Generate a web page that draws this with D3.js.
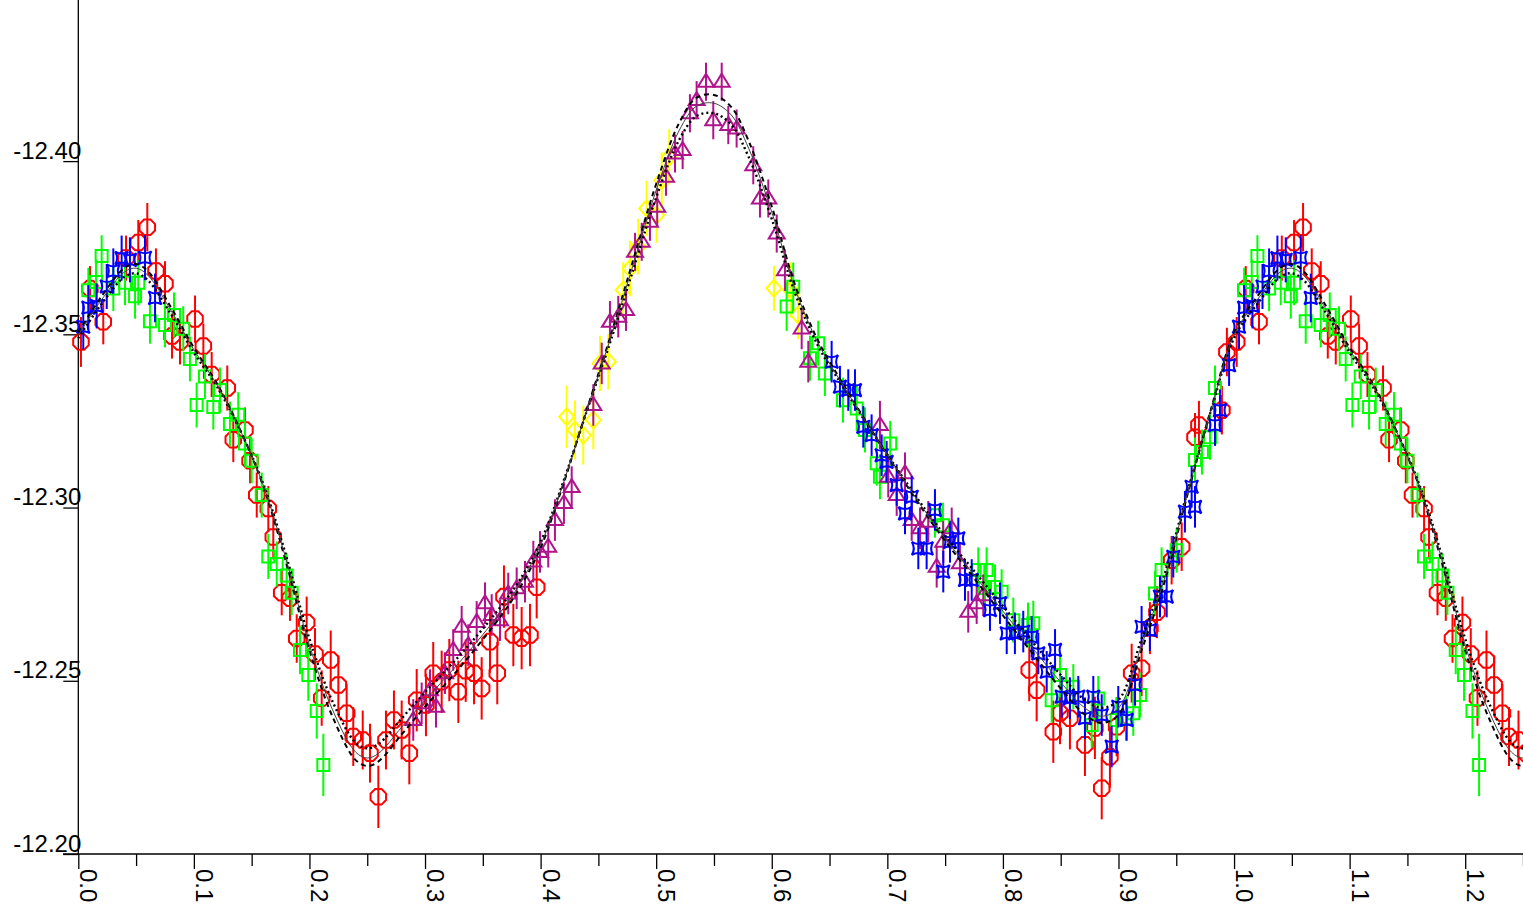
<!DOCTYPE html>
<html><head><meta charset="utf-8">
<script src="https://cdn.jsdelivr.net/npm/d3@7"></script>
<style>
body{margin:0;background:#fff;}
svg{display:block;}
text{font-family:"Liberation Sans",Arial,sans-serif;}
</style>
</head><body>
<svg id="chart" width="1523" height="908"></svg>
<script>
// ---------- tick definitions ----------
const yTicks = [-12.40, -12.35, -12.30, -12.25, -12.20];
const xMajorTicks = [0,0.1,0.2,0.3,0.4,0.5,0.6,0.7,0.8,0.9,1.0,1.1,1.2];
const xMajorLabels = ["0.0","0.1","0.2","0.3","0.4","0.5","0.6","0.7","0.8","0.9","1.0","1.1","1.2"];
const xMinorTicks = [0.05,0.15,0.25,0.35,0.45,0.55,0.65,0.75,0.85,0.95,1.05,1.15,1.25];

// ---------- observations: [phase, magnitude, error] ----------
const redPoints = [
[0.0023,-12.3478,0.0072],[0.0101,-12.3632,0.0065],[0.0216,-12.3536,0.0065],[0.0413,-12.3720,0.0065],
[0.0519,-12.3765,0.0065],[0.0597,-12.3809,0.0070],[0.0672,-12.3683,0.0065],[0.0750,-12.3646,0.0065],
[0.0811,-12.3495,0.0065],[0.0880,-12.3478,0.0065],[0.1010,-12.3544,0.0068],[0.1082,-12.3466,0.0065],
[0.1154,-12.3384,0.0065],[0.1289,-12.3345,0.0065],[0.1341,-12.3196,0.0065],[0.1442,-12.3224,0.0065],
[0.1486,-12.3135,0.0065],[0.1544,-12.3036,0.0065],[0.1644,-12.2997,0.0065],[0.1687,-12.2915,0.0065],
[0.1760,-12.2754,0.0065],[0.1832,-12.2738,0.0065],[0.1890,-12.2622,0.0070],[0.1976,-12.2668,0.0075],
[0.2048,-12.2577,0.0075],[0.2106,-12.2450,0.0080],[0.2184,-12.2560,0.0085],[0.2250,-12.2488,0.0085],
[0.2322,-12.2406,0.0085],[0.2379,-12.2339,0.0085],[0.2461,-12.2329,0.0085],[0.2524,-12.2291,0.0085],
[0.2596,-12.2165,0.0090],[0.2662,-12.2329,0.0085],[0.2731,-12.2387,0.0085],[0.2798,-12.2358,0.0085],
[0.2864,-12.2291,0.0090],[0.2928,-12.2444,0.0090],[0.3008,-12.2430,0.0090],[0.3071,-12.2522,0.0090],
[0.3144,-12.2497,0.0090],[0.3210,-12.2531,0.0090],[0.3288,-12.2468,0.0090],[0.3352,-12.2529,0.0090],
[0.3424,-12.2522,0.0090],[0.3490,-12.2478,0.0090],[0.3562,-12.2613,0.0090],[0.3625,-12.2522,0.0090],
[0.3683,-12.2743,0.0090],[0.3764,-12.2632,0.0090],[0.3836,-12.2623,0.0090],[0.3908,-12.2632,0.0090],
[0.3966,-12.2770,0.0090],
[0.8228,-12.2531,0.0090],[0.8292,-12.2473,0.0090],[0.8436,-12.2353,0.0090],[0.8494,-12.2407,0.0090],
[0.8580,-12.2392,0.0090],[0.8710,-12.2315,0.0090],[0.8796,-12.2364,0.0090],[0.8855,-12.2190,0.0090],
[0.8926,-12.2281,0.0090],[0.8984,-12.2367,0.0085],[0.9114,-12.2522,0.0085],[0.9200,-12.2536,0.0080],
[0.9272,-12.2652,0.0075],[0.9333,-12.2698,0.0075],[0.9460,-12.2848,0.0070],[0.9547,-12.2887,0.0070],
[0.9662,-12.3203,0.0070],[0.9696,-12.3238,0.0070],[0.9895,-12.3281,0.0070],[0.9938,-12.3449,0.0070]
];
const greenPoints = [
[0.0087,-12.3627,0.0065],[0.0153,-12.3651,0.0065],[0.0202,-12.3726,0.0060],[0.0303,-12.3632,0.0065],
[0.0404,-12.3649,0.0065],[0.0491,-12.3610,0.0065],[0.0519,-12.3649,0.0065],[0.0620,-12.3538,0.0065],
[0.0750,-12.3527,0.0065],[0.0828,-12.3556,0.0065],[0.0908,-12.3516,0.0065],[0.0966,-12.3429,0.0065],
[0.1024,-12.3296,0.0065],[0.1096,-12.3378,0.0065],[0.1168,-12.3290,0.0065],[0.1226,-12.3339,0.0065],
[0.1312,-12.3241,0.0065],[0.1384,-12.3268,0.0065],[0.1442,-12.3185,0.0065],[0.1500,-12.3135,0.0065],
[0.1587,-12.3036,0.0065],[0.1644,-12.2859,0.0065],[0.1717,-12.2837,0.0065],[0.1803,-12.2804,0.0065],
[0.1846,-12.2754,0.0065],[0.1918,-12.2589,0.0070],[0.1990,-12.2517,0.0075],[0.2063,-12.2413,0.0080],
[0.2120,-12.2257,0.0090],
[0.6129,-12.3580,0.0070],[0.6186,-12.3637,0.0070],[0.6331,-12.3431,0.0065],[0.6402,-12.3474,0.0065],
[0.6460,-12.3387,0.0065],[0.6616,-12.3310,0.0065],[0.6735,-12.3286,0.0065],[0.6807,-12.3224,0.0065],
[0.6908,-12.3128,0.0065],[0.6936,-12.3089,0.0065],[0.7025,-12.3185,0.0065],[0.7412,-12.2978,0.0065],
[0.7481,-12.2949,0.0065],[0.7787,-12.2820,0.0065],[0.7845,-12.2768,0.0065],[0.7859,-12.2820,0.0065],
[0.7931,-12.2771,0.0065],[0.7989,-12.2757,0.0065],[0.8090,-12.2675,0.0065],[0.8217,-12.2661,0.0065],
[0.8263,-12.2666,0.0065],[0.8422,-12.2444,0.0065],[0.8494,-12.2517,0.0065],[0.8609,-12.2483,0.0065],
[0.8768,-12.2372,0.0065],[0.8825,-12.2449,0.0065],[0.8984,-12.2387,0.0065],[0.9065,-12.2392,0.0065],
[0.9128,-12.2406,0.0065],[0.9186,-12.2459,0.0065],[0.9316,-12.2752,0.0065],[0.9373,-12.2820,0.0065],
[0.9503,-12.2877,0.0065],[0.9662,-12.3137,0.0065],[0.9722,-12.3160,0.0065],[0.9792,-12.3203,0.0065],
[0.9835,-12.3345,0.0065]
];
const bluePoints = [
[0.0043,-12.3522,0.0065],[0.0087,-12.3577,0.0065],[0.0159,-12.3582,0.0065],[0.0246,-12.3638,0.0065],
[0.0303,-12.3683,0.0065],[0.0375,-12.3720,0.0065],[0.0447,-12.3715,0.0065],[0.0577,-12.3721,0.0065],
[0.0664,-12.3605,0.0070],
[0.6518,-12.3421,0.0060],[0.6590,-12.3349,0.0060],[0.6662,-12.3339,0.0060],[0.6720,-12.3339,0.0060],
[0.6792,-12.3233,0.0060],[0.6864,-12.3209,0.0060],[0.6951,-12.3151,0.0060],[0.6994,-12.3132,0.0060],
[0.7081,-12.3065,0.0060],[0.7153,-12.2983,0.0060],[0.7211,-12.3031,0.0060],[0.7268,-12.2882,0.0060],
[0.7340,-12.2882,0.0060],[0.7412,-12.2993,0.0060],[0.7484,-12.2815,0.0060],[0.7542,-12.2901,0.0060],
[0.7614,-12.2911,0.0060],[0.7672,-12.2791,0.0060],[0.7730,-12.2791,0.0060],[0.7888,-12.2704,0.0060],
[0.7975,-12.2724,0.0060],[0.8033,-12.2637,0.0060],[0.8104,-12.2637,0.0060],[0.8176,-12.2642,0.0060],
[0.8249,-12.2627,0.0060],[0.8306,-12.2579,0.0060],[0.8379,-12.2526,0.0060],[0.8451,-12.2589,0.0060],
[0.8509,-12.2454,0.0060],[0.8580,-12.2450,0.0060],[0.8652,-12.2454,0.0060],[0.8710,-12.2392,0.0060],
[0.8782,-12.2454,0.0060],[0.8855,-12.2401,0.0060],[0.8941,-12.2310,0.0060],[0.8998,-12.2425,0.0060],
[0.9071,-12.2387,0.0060],[0.9143,-12.2488,0.0060],[0.9200,-12.2656,0.0060],[0.9272,-12.2646,0.0060],
[0.9359,-12.2743,0.0060],[0.9417,-12.2743,0.0060],[0.9474,-12.2858,0.0060],[0.9575,-12.2988,0.0060],
[0.9633,-12.3060,0.0060],[0.9662,-12.3002,0.0060],[0.9835,-12.3238,0.0060],[0.9878,-12.3281,0.0060],
[0.9957,-12.3411,0.0060]
];
const magentaPoints = [
[0.2898,-12.2387,0.0060],[0.2971,-12.2435,0.0060],[0.3043,-12.2473,0.0060],[0.3095,-12.2425,0.0060],
[0.3173,-12.2522,0.0060],[0.3244,-12.2589,0.0060],[0.3317,-12.2656,0.0060],[0.3374,-12.2603,0.0060],
[0.3447,-12.2670,0.0060],[0.3519,-12.2724,0.0060],[0.3577,-12.2690,0.0060],[0.3649,-12.2675,0.0060],
[0.3720,-12.2752,0.0060],[0.3793,-12.2767,0.0060],[0.3865,-12.2786,0.0060],[0.3937,-12.2844,0.0060],
[0.3995,-12.2872,0.0060],[0.4066,-12.2887,0.0060],[0.4124,-12.2964,0.0060],[0.4202,-12.3013,0.0060],
[0.4269,-12.3059,0.0060],[0.4456,-12.3296,0.0060],[0.4529,-12.3416,0.0060],[0.4600,-12.3536,0.0060],
[0.4672,-12.3551,0.0060],[0.4739,-12.3570,0.0060],[0.4817,-12.3738,0.0055],[0.4875,-12.3767,0.0055],
[0.4946,-12.3825,0.0055],[0.5009,-12.3868,0.0055],[0.5085,-12.3955,0.0055],[0.5163,-12.4022,0.0055],
[0.5229,-12.4032,0.0055],[0.5292,-12.4138,0.0055],[0.5350,-12.4176,0.0055],[0.5431,-12.4229,0.0055],
[0.5494,-12.4118,0.0055],[0.5567,-12.4229,0.0055],[0.5624,-12.4104,0.0055],[0.5696,-12.4094,0.0055],
[0.5840,-12.3988,0.0055],[0.5898,-12.3892,0.0055],[0.5970,-12.3892,0.0055],[0.6043,-12.3791,0.0055],
[0.6114,-12.3685,0.0060],[0.6259,-12.3517,0.0060],[0.6316,-12.3421,0.0060],[0.6936,-12.3238,0.0070],
[0.7008,-12.3089,0.0060],[0.7081,-12.3036,0.0060],[0.7153,-12.3099,0.0060],[0.7211,-12.2964,0.0060],
[0.7283,-12.2940,0.0060],[0.7354,-12.2959,0.0060],[0.7427,-12.2829,0.0060],[0.7484,-12.2901,0.0060],
[0.7557,-12.2940,0.0060],[0.7628,-12.2839,0.0060],[0.7700,-12.2699,0.0060],[0.7773,-12.2724,0.0060],
[0.7830,-12.2747,0.0060]
];
const yellowPoints = [
[0.4226,-12.3262,0.0090],[0.4297,-12.3224,0.0085],[0.4369,-12.3209,0.0085],[0.4456,-12.3253,0.0085],
[0.4514,-12.3416,0.0080],[0.4586,-12.3421,0.0080],[0.4715,-12.3628,0.0080],[0.4773,-12.3690,0.0080],
[0.4845,-12.3753,0.0080],[0.4918,-12.3863,0.0080],[0.5004,-12.3844,0.0080],[0.5048,-12.3945,0.0080],
[0.5113,-12.4012,0.0080],[0.6019,-12.3633,0.0065],[0.6164,-12.3628,0.0080],[0.6229,-12.3556,0.0070]
];

// ---------- model light curves (one cycle) ----------
const modelPhase = [0.00,0.02,0.04,0.05,0.06,0.08,0.10,0.12,0.14,0.16,0.18,0.20,0.22,0.24,0.25,0.26,0.28,0.30,0.33,0.36,0.38,0.40,0.42,0.44,0.46,0.48,0.50,0.52,0.535,0.55,0.565,0.58,0.60,0.62,0.64,0.66,0.70,0.74,0.78,0.82,0.85,0.87,0.885,0.90,0.92,0.94,0.96,0.98];
const modelMid = [-12.3498,-12.3599,-12.3680,-12.3691,-12.3671,-12.3570,-12.3455,-12.3354,-12.3224,-12.3065,-12.2848,-12.2603,-12.2416,-12.2294,-12.2277,-12.2291,-12.2367,-12.2444,-12.2554,-12.2675,-12.2768,-12.2892,-12.3074,-12.3281,-12.3483,-12.3700,-12.3916,-12.4089,-12.4159,-12.4167,-12.4133,-12.4037,-12.3853,-12.3633,-12.3475,-12.3362,-12.3152,-12.2955,-12.2785,-12.2618,-12.2496,-12.2424,-12.2398,-12.2421,-12.2603,-12.2797,-12.3045,-12.3281];
const modelHigh = [-12.3505,-12.3609,-12.3692,-12.3703,-12.3683,-12.3579,-12.3461,-12.3358,-12.3225,-12.3062,-12.2839,-12.2588,-12.2396,-12.2271,-12.2254,-12.2268,-12.2346,-12.2425,-12.2538,-12.2662,-12.2757,-12.2884,-12.3071,-12.3283,-12.3490,-12.3713,-12.3934,-12.4111,-12.4183,-12.4191,-12.4156,-12.4058,-12.3869,-12.3644,-12.3482,-12.3366,-12.3151,-12.2949,-12.2775,-12.2603,-12.2478,-12.2405,-12.2378,-12.2402,-12.2588,-12.2787,-12.3041,-12.3283];
const modelLow = [-12.3489,-12.3587,-12.3666,-12.3676,-12.3657,-12.3559,-12.3447,-12.3349,-12.3223,-12.3069,-12.2859,-12.2621,-12.2440,-12.2321,-12.2305,-12.2318,-12.2392,-12.2467,-12.2573,-12.2691,-12.2781,-12.2901,-12.3078,-12.3279,-12.3475,-12.3685,-12.3895,-12.4062,-12.4130,-12.4138,-12.4105,-12.4012,-12.3833,-12.3620,-12.3467,-12.3357,-12.3153,-12.2962,-12.2797,-12.2635,-12.2517,-12.2447,-12.2422,-12.2444,-12.2621,-12.2809,-12.3050,-12.3279];

// ---------- layout ----------
const W = 1523, H = 908;
const svg = d3.select("#chart");
const x = d3.scaleLinear().domain([0, 1.25]).range([78.3, 1523]);
const y = d3.scaleLinear().domain([-12.20, -12.4465]).range([854, 0]);

// phase-folded repetition of the first quarter cycle beyond phase 1
const fold = arr => arr.concat(arr.filter(d => d[0] <= 0.26).map(d => [d[0] + 1, d[1], d[2]]));

svg.append("defs").append("clipPath").attr("id","plotclip")
  .append("rect").attr("x", 0).attr("y", 0).attr("width", W).attr("height", 854);

// ---------- axes ----------
const yAxis = d3.axisLeft(y).tickValues(yTicks).tickSize(15).tickSizeOuter(0)
  .tickFormat(d => d.toFixed(2));
const gy = svg.append("g").attr("transform", "translate(78.3,0)").call(yAxis);
gy.select(".domain").remove();
gy.selectAll(".tick line").attr("stroke", "#000").attr("stroke-width", 1.3);
gy.selectAll(".tick text").attr("x", 3).attr("y", -3).attr("dy", 0)
  .attr("font-size", 24).attr("fill", "#000").attr("text-anchor", "end")
  .style("font-family", "'Liberation Sans', Arial, sans-serif");

const xMinor = d3.axisBottom(x).tickValues(xMinorTicks).tickSize(12).tickSizeOuter(0).tickFormat("");
const gxm = svg.append("g").attr("transform", "translate(0,854)").call(xMinor);
gxm.select(".domain").remove();
gxm.selectAll(".tick line").attr("stroke", "#000").attr("stroke-width", 1.3);

const xMajor = d3.axisBottom(x).tickValues(xMajorTicks).tickSize(15).tickSizeOuter(0)
  .tickFormat((d, i) => xMajorLabels[i]);
const gx = svg.append("g").attr("transform", "translate(0,854)").call(xMajor);
gx.select(".domain").remove();
gx.selectAll(".tick line").attr("stroke", "#000").attr("stroke-width", 1.3);
gx.selectAll(".tick text").attr("x", 0).attr("y", 0).attr("dy", 0)
  .attr("transform", "translate(1.5,15) rotate(90)")
  .attr("text-anchor", "start").attr("font-size", 24).attr("fill", "#000")
  .style("font-family", "'Liberation Sans', Arial, sans-serif");

// axis lines
svg.append("line").attr("x1", 78.3).attr("x2", 78.3).attr("y1", 0).attr("y2", 854)
  .attr("stroke", "#000").attr("stroke-width", 1.3);
svg.append("line").attr("x1", 63).attr("x2", W).attr("y1", 854).attr("y2", 854)
  .attr("stroke", "#000").attr("stroke-width", 1.3);

// ---------- markers ----------
function octagon(r) {
  const pts = d3.range(8).map(k => {
    const a = Math.PI / 8 + k * Math.PI / 4;
    return [r * Math.cos(a), r * Math.sin(a)];
  });
  return "M" + pts.map(p => p[0].toFixed(2) + "," + p[1].toFixed(2)).join("L") + "Z";
}
const shapes = {
  octagon: octagon(8.4),
  square: "M-6,-6L6,-6L6,6L-6,6Z",
  triangle: "M0,-8L8,5L-8,5Z",
  diamond: "M0,-8.5L7.5,0L0,8.5L-7.5,0Z",
  astroid: "M-6.5,-6.5Q0,-2.5 6.5,-6.5Q2.5,0 6.5,6.5Q0,2.5 -6.5,6.5Q-2.5,0 -6.5,-6.5Z"
};

const plot = svg.append("g").attr("clip-path", "url(#plotclip)");

function drawSeries(data, color, shape) {
  const g = plot.append("g");
  const pts = fold(data);
  g.selectAll("line.err").data(pts).join("line")
    .attr("x1", d => x(d[0])).attr("x2", d => x(d[0]))
    .attr("y1", d => y(d[1] - d[2])).attr("y2", d => y(d[1] + d[2]))
    .attr("stroke", color).attr("stroke-width", 2);
  g.selectAll("path.mk").data(pts).join("path")
    .attr("d", shapes[shape])
    .attr("transform", d => `translate(${x(d[0])},${y(d[1])})`)
    .attr("fill", "none").attr("stroke", color).attr("stroke-width", 2);
}

drawSeries(yellowPoints, "#ffff00", "diamond");
drawSeries(redPoints, "#ff0000", "octagon");
drawSeries(greenPoints, "#00ff00", "square");
drawSeries(magentaPoints, "#b0148c", "triangle");
drawSeries(bluePoints, "#0000ff", "astroid");

// ---------- model curves ----------
function curvePoints(vals) {
  const base = modelPhase.map((p, i) => [p, vals[i]]);
  const extra = base.map(d => [d[0] + 1, d[1]]).filter(d => d[0] <= 1.3);
  return base.concat(extra);
}
const line = d3.line().x(d => x(d[0])).y(d => y(d[1])).curve(d3.curveCatmullRom.alpha(0.5));

plot.append("path").attr("d", line(curvePoints(modelHigh)))
  .attr("fill", "none").attr("stroke", "#000").attr("stroke-width", 2)
  .attr("stroke-dasharray", "5,4");
plot.append("path").attr("d", line(curvePoints(modelLow)))
  .attr("fill", "none").attr("stroke", "#000").attr("stroke-width", 2.4)
  .attr("stroke-dasharray", "2,3");
plot.append("path").attr("d", line(curvePoints(modelMid)))
  .attr("fill", "none").attr("stroke", "#444").attr("stroke-width", 1);
</script>
</body></html>
